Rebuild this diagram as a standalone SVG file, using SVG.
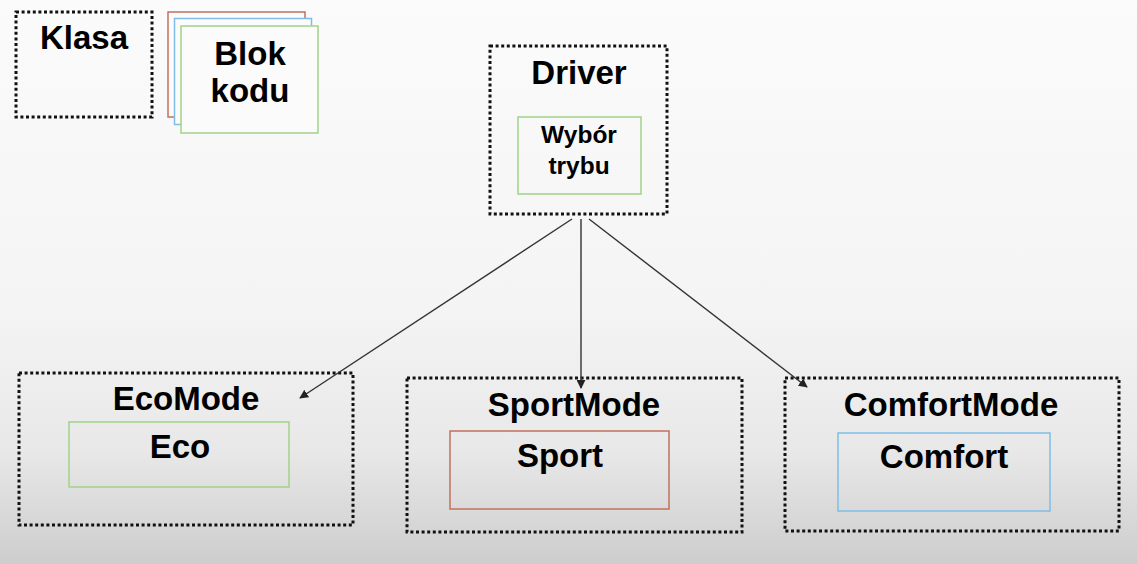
<svg xmlns="http://www.w3.org/2000/svg" width="1137" height="564" viewBox="0 0 1137 564">
<defs>
<linearGradient id="bg" x1="0" y1="0" x2="0" y2="1">
<stop offset="0" stop-color="#fbfbfb"/>
<stop offset="0.55" stop-color="#f4f4f4"/>
<stop offset="0.8" stop-color="#e8e8e8"/>
<stop offset="1" stop-color="#cdcdcd"/>
</linearGradient>
<marker id="ah" viewBox="0 0 10 10" refX="9" refY="5" markerWidth="9" markerHeight="9" markerUnits="userSpaceOnUse" orient="auto">
<path d="M0,0 L10,5 L0,10 Z" fill="#222"/>
</marker>
<style>
.cls{fill:none;stroke:#111;stroke-width:3;stroke-dasharray:3 2.6}
.blk{fill:none;stroke-width:1.5}
.opq{fill:#fbfbfb}
.g{stroke:#a3d28a}
.r{stroke:#c2705c}
.b{stroke:#80bde6}
.t{font-family:"Liberation Sans",Arial,sans-serif;font-weight:bold;fill:#000;text-anchor:middle;font-size:33px}
.s{font-size:24.5px}
.conn{stroke:#333;stroke-width:1.4;fill:none;marker-end:url(#ah)}
</style>
</defs>
<rect x="0" y="0" width="1137" height="564" fill="url(#bg)"/>

<g id="klasa">
<rect class="cls" x="16" y="12" width="136" height="105"/>
<text class="t" x="84" y="49">Klasa</text>
</g>

<g id="blok-kodu">
<rect class="blk opq r" x="168" y="12" width="137" height="105"/>
<rect class="blk opq b" x="174.5" y="18.5" width="137" height="106"/>
<rect class="blk opq g" x="181" y="26" width="137" height="107"/>
<text class="t" x="250" y="65">Blok</text>
<text class="t" x="250" y="102">kodu</text>
</g>

<g id="driver">
<rect class="cls" x="490" y="46" width="177" height="168"/>
<text class="t" x="579" y="84">Driver</text>
<rect class="blk g" x="518" y="117" width="123" height="77"/>
<text class="t s" x="579" y="143">Wybór</text>
<text class="t s" x="579" y="174">trybu</text>
</g>

<g id="ecomode">
<rect class="cls" x="19" y="373" width="334" height="152"/>
<text class="t" x="186" y="410">EcoMode</text>
<rect class="blk g" x="69" y="422" width="220" height="65"/>
<text class="t" x="180" y="458">Eco</text>
</g>

<g id="sportmode">
<rect class="cls" x="407" y="378" width="335" height="154"/>
<text class="t" x="574" y="416">SportMode</text>
<rect class="blk r" x="450" y="431" width="219" height="78"/>
<text class="t" x="560" y="467">Sport</text>
</g>

<g id="comfortmode">
<rect class="cls" x="785" y="378" width="334" height="153"/>
<text class="t" x="951" y="416">ComfortMode</text>
<rect class="blk b" x="838" y="433" width="212" height="78"/>
<text class="t" x="944" y="468">Comfort</text>
</g>

<g id="connectors">
<line class="conn" x1="572" y1="219" x2="300" y2="398"/>
<line class="conn" x1="581" y1="219" x2="581" y2="388"/>
<line class="conn" x1="589" y1="219" x2="807" y2="387"/>
</g>
</svg>
